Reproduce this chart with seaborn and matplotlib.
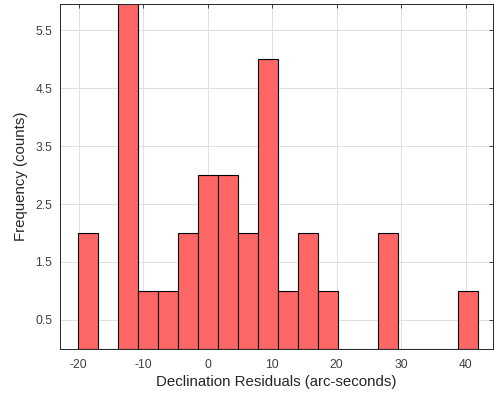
import numpy as np
import pandas as pd
import matplotlib
matplotlib.use("Agg")
import matplotlib.pyplot as plt
import seaborn as sns

# histogram bins (20 equal-width bins) and counts
BIN_EDGES = list(np.linspace(-20.1, 41.9, 21))
COUNTS = [2, 0, 6, 1, 1, 2, 3, 3, 2, 5, 1, 2, 1, 0, 0, 2, 0, 0, 0, 1]
YTICKS = [0.5, 1.5, 2.5, 3.5, 4.5, 5.5]
XTICKS = [-20, -10, 0, 10, 20, 30, 40]

sns.set_theme(style="whitegrid")
plt.rcParams["font.family"] = ["Liberation Sans", "DejaVu Sans"]

df = pd.DataFrame({
    "center": [(a + b) / 2 for a, b in zip(BIN_EDGES[:-1], BIN_EDGES[1:])],
    "count": COUNTS,
})

fig = plt.figure(figsize=(4.94, 3.95), dpi=100)
ax = fig.add_axes([0.1215, 0.117, 0.876, 0.872])

sns.histplot(data=df, x="center", weights="count", bins=BIN_EDGES, ax=ax,
             color=(1.0, 0.4, 0.4), alpha=1.0, edgecolor="black",
             linewidth=0.8)

ax.set_xlim(-22.9, 44.2)
ax.set_ylim(0, 5.95)
ax.set_xticks(XTICKS)
ax.set_yticks(YTICKS)
ax.set_xticklabels([str(t) for t in XTICKS])
ax.set_yticklabels([f"{t:.1f}" for t in YTICKS])
ax.set_xlabel("Declination Residuals (arc-seconds)", fontsize=10.8,
              color="#262626", labelpad=3)
ax.set_ylabel("Frequency (counts)", fontsize=10.8, color="#262626", labelpad=5)
ax.tick_params(axis="both", labelsize=8.7, colors="#262626", labelcolor="#404040",
               direction="in", length=3, width=0.6, top=True, right=True)
ax.tick_params(axis="x", pad=7.5)
ax.tick_params(axis="y", pad=5.5)
ax.grid(True, color="#e0e0e0", linewidth=0.7)
ax.set_axisbelow(True)
for s in ax.spines.values():
    s.set_visible(True)
    s.set_color("#262626")
    s.set_linewidth(0.7)
ax.set_facecolor("white")

fig.savefig("out.png", dpi=100)
